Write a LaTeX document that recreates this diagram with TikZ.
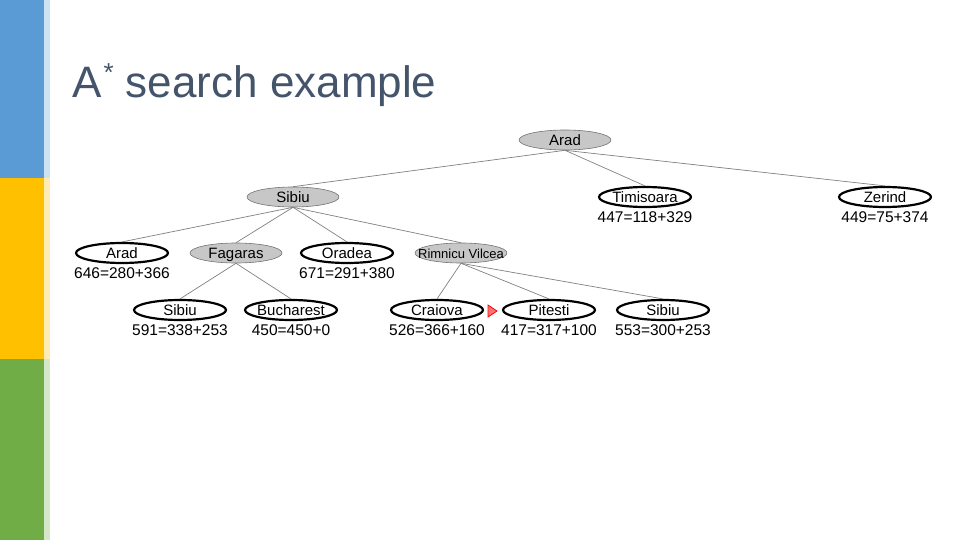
\documentclass[tikz,border=0pt]{standalone}
\usepackage{fontspec}
\setmainfont{Liberation Sans}
\usetikzlibrary{shapes.geometric}
\definecolor{slate}{HTML}{44546A}
\definecolor{barblue}{HTML}{5B9BD5}
\definecolor{baryellow}{HTML}{FFC000}
\definecolor{bargreen}{HTML}{70AD47}
\begin{document}
\begin{tikzpicture}[x=1pt,y=-1pt,
    town/.style={ellipse,draw=black,line width=2.2pt,fill=white,
      minimum width=92pt,minimum height=20pt,inner xsep=-20pt,inner ysep=0pt,
      text height=10.7pt,text depth=0pt,font=\fontsize{15}{15}\selectfont},
    seen/.style={town,draw=black!55,line width=0.6pt,fill=black!22},
    cost/.style={inner sep=0pt,font=\fontsize{15.5}{15.5}\selectfont},
    every label/.style={cost},
    label distance=3.5pt,
    edge/.style={black!50,line width=0.7pt}]
  \useasboundingbox (0,0) rectangle (960,540);
  % side bars
  \fill[barblue] (0,0) rectangle (44,178);
  \fill[baryellow] (0,178) rectangle (44,359);
  \fill[bargreen] (0,359) rectangle (44,540);
  \fill[barblue!30] (44,0) rectangle (50,178);
  \fill[baryellow!30] (44,178) rectangle (50,359);
  \fill[bargreen!30] (44,359) rectangle (50,540);
  % title
  \node[anchor=base west,inner sep=0pt,text=slate,font=\fontsize{44}{44}\selectfont]
    (title) at (72,98) {A\kern2pt\raisebox{16pt}{\fontsize{26}{26}\selectfont*} search example};
  % tree
  \node[seen] (arad) at (565,140) {Arad};
  \node[seen] (sibiu) at (293,197) {Sibiu};
  \node[town,label={below:{447=118+329}}] (timisoara) at (645,197) {Timisoara};
  \node[town,label={below:{449=75+374}}] (zerind) at (885,197) {Zerind};
  \node[town,label={below:{646=280+366}}] (arad2) at (122,253) {Arad};
  \node[seen] (fagaras) at (236,253) {Fagaras};
  \node[town,label={below:{671=291+380}}] (oradea) at (347,253) {Oradea};
  \node[seen,font=\fontsize{13}{13}\selectfont] (rimnicu) at (461,253) {Rimnicu Vilcea};
  \node[town,label={below:{591=338+253}}] (sibiu2) at (180,310) {Sibiu};
  \node[town,label={below:{450=450+0}}] (bucharest) at (291,310) {Bucharest};
  \node[town,label={below:{526=366+160}}] (craiova) at (437,310) {Craiova};
  \node[town,label={below:{417=317+100}}] (pitesti) at (549,310) {Pitesti};
  \node[town,label={below:{553=300+253}}] (sibiu3) at (663,310) {Sibiu};
  % connectors
  \foreach \a/\b in {arad/sibiu,arad/timisoara,arad/zerind,
      sibiu/arad2,sibiu/fagaras,sibiu/oradea,sibiu/rimnicu,
      fagaras/sibiu2,fagaras/bucharest,
      rimnicu/craiova,rimnicu/pitesti,rimnicu/sibiu3}
    \draw[edge] (\a.south) -- (\b.north);
  % marker
  \filldraw[draw=red,fill=red!55,line width=0.8pt] (488,305) -- (497,311) -- (488,317) -- cycle;
\end{tikzpicture}
\end{document}
